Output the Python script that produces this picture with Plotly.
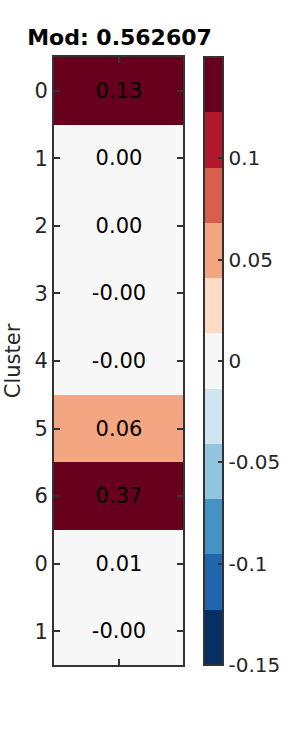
import plotly.graph_objects as go

cluster_labels = ["0", "1", "2", "3", "4", "5", "6", "0", "1"]
values = [0.13, 0.002, 0.001, -0.001, -0.002, 0.06, 0.37, 0.01, -0.001]
title_text = "Mod: 0.562607"
cbar_tickvals = [-0.15, -0.1, -0.05, 0, 0.05, 0.1]
cbar_ticktext = ["-0.15", "-0.1", "-0.05", "0", "0.05", "0.1"]

palette = ["#053061", "#2166ac", "#4393c3", "#92c5de", "#d1e5f0", "#f7f7f7",
           "#fddbc7", "#f4a582", "#d6604d", "#b2182b", "#67001f"]
n = len(palette)
colorscale = []
for i, c in enumerate(palette):
    colorscale.append([i / n, c])
    colorscale.append([(i + 1) / n, c])

rows = list(range(len(values)))
z = [[v] for v in values]
text = [[f"{v:.2f}"] for v in values]

fig = go.Figure(go.Heatmap(
    z=z, x=[0], y=rows, text=text, texttemplate="%{text}",
    textfont=dict(family="DejaVu Sans", size=21, color="#000000"),
    colorscale=colorscale, zmin=-0.15, zmax=0.15,
    colorbar=dict(
        x=(206 - 54) / 131, xanchor="left", xpad=0, ypad=0,
        y=0.5, yanchor="middle", len=1, lenmode="fraction",
        thickness=19, thicknessmode="pixels",
        outlinewidth=2, outlinecolor="#333333",
        tickvals=cbar_tickvals, ticktext=cbar_ticktext,
        ticks="inside", ticklen=6, tickwidth=2, tickcolor="#333333",
        tickfont=dict(family="DejaVu Sans", size=20, color="#262626"),
        ticklabelposition="outside",
    ),
    hoverinfo="skip",
))

fig.update_layout(
    width=300, height=750,
    margin=dict(l=54, r=115, t=57, b=85),
    paper_bgcolor="white", plot_bgcolor="white",
    title=dict(text="<b>" + title_text + "</b>", x=(54 + 131 / 2) / 300, xanchor="center",
               y=1 - 37 / 750, yanchor="middle",
               font=dict(family="DejaVu Sans", size=22, color="#000000")),
    font=dict(family="DejaVu Sans", color="#262626"),
)
fig.update_xaxes(range=[-0.5, 0.5], tickvals=[0], ticktext=[""], ticks="inside",
                 ticklen=6, tickwidth=2, tickcolor="#333333",
                 showline=True, linewidth=2, linecolor="#333333", mirror="ticks",
                 showgrid=False, zeroline=False)
fig.update_yaxes(range=[len(values) - 0.5, -0.5], tickvals=rows, ticktext=cluster_labels,
                 ticks="inside", ticklen=6, tickwidth=2, tickcolor="#333333",
                 showline=True, linewidth=2, linecolor="#333333", mirror="ticks",
                 showgrid=False, zeroline=False,
                 tickfont=dict(family="DejaVu Sans", size=21, color="#262626"),
                 title=dict(text="Cluster", standoff=8,
                            font=dict(family="DejaVu Sans", size=21, color="#262626")))

fig.write_html("out.html")
